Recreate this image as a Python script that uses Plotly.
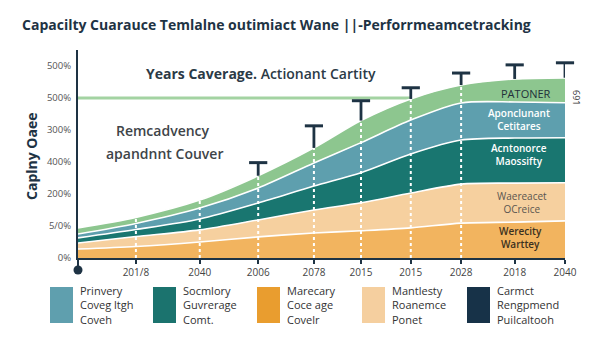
import numpy as np
import plotly.graph_objects as go

# Periods along the horizontal axis (first point sits on the axis origin)
periods = [0, 1.07, 2.25, 3.33, 4.36, 5.23, 6.15, 7.08, 8.07, 9.0]
year_labels = ["201/8", "2040", "2006", "2078", "2015", "2015", "2028", "2018", "2040"]

# Stacked layers, bottom to top
werecity = [0.28, 0.36, 0.50, 0.66, 0.78, 0.85, 0.94, 1.09, 1.12, 1.16]
waereacet = [0.19, 0.31, 0.38, 0.53, 0.72, 0.875, 1.09, 1.22, 1.22, 1.19]
acntonorce = [0.16, 0.22, 0.34, 0.53, 0.75, 0.94, 1.22, 1.375, 1.41, 1.41]
aponclunant = [0.12, 0.19, 0.34, 0.47, 0.72, 0.94, 1.06, 1.16, 1.125, 1.09]
patoner = [0.19, 0.19, 0.25, 0.38, 0.47, 0.69, 0.66, 0.56, 0.72, 0.78]

# Upper spread drawn above the total (None = no bar)
spread_upper = [None, None, None, 0.41, 0.69, 0.62, 0.35, 0.375, 0.44, 0.47]
# Periods that get a dotted guide line
guide_idx = [1, 2, 3, 4, 5, 6, 7]

target_level = 5.0
y_tick_labels = ["0%", "5/0%", "200%", "400%", "300%", "500%", "500%"]

legend_names = [
    "Prinvery<br>Coveg ltgh<br>Coveh",
    "Socmlory<br>Guvrerage<br>Comt.",
    "Marecary<br>Coce age<br>Covelr",
    "Mantlesty<br>Roanemce<br>Ponet",
    "Carmct<br>Rengpmend<br>Puilcaltooh",
]
legend_colors = ["#5f9fae", "#1b736e", "#e99d2f", "#f5cf9f", "#173248"]

layers = [
    ("Werecity Warttey", werecity, "#f2b45f"),
    ("Waereacet OCreice", waereacet, "#f6d09f"),
    ("Acntonorce Maossifty", acntonorce, "#197670"),
    ("Aponclunant Cetitares", aponclunant, "#5e9fae"),
    ("PATONER", patoner, "#8dc68f"),
]

DARK = "#1e3344"
FONT = "Open Sans"

W, H = 600, 338
L, R, T, B = 78, 35, 50, 80
PW, PH = W - L - R, H - T - B


def px(x):
    return (x - L) / PW


def py(y):
    return (H - B - y) / PH


fig = go.Figure()

for name, vals, col in layers:
    fig.add_trace(go.Scatter(
        x=periods, y=vals, name=name, mode="lines", stackgroup="one",
        line=dict(color="white", width=1.6, shape="spline", smoothing=0.8),
        fillcolor=col, hoverinfo="skip", showlegend=False,
    ))

totals = np.sum([werecity, waereacet, acntonorce, aponclunant, patoner], axis=0)

# dotted guides from the baseline up to the stacked total
gx, gy = [], []
for i in guide_idx:
    gx += [periods[i], periods[i], None]
    gy += [0, totals[i], None]
fig.add_trace(go.Scatter(
    x=gx, y=gy, mode="lines", line=dict(color="white", width=2, dash="dot"),
    hoverinfo="skip", showlegend=False,
))

# upper spread: a stem from the total and a cap on top (T shape)
ei = [i for i, v in enumerate(spread_upper) if v is not None]
sx, sy = [], []
for i in ei:
    sx += [periods[i], periods[i], None]
    sy += [totals[i], totals[i] + spread_upper[i], None]
fig.add_trace(go.Scatter(
    x=sx, y=sy, mode="lines", line=dict(color=DARK, width=2.8),
    hoverinfo="skip", showlegend=False,
))
fig.add_trace(go.Scatter(
    x=[periods[i] for i in ei], y=[totals[i] + spread_upper[i] for i in ei],
    mode="markers", cliponaxis=False,
    marker=dict(symbol="line-ew", size=13, line=dict(color=DARK, width=3)),
    hoverinfo="skip", showlegend=False,
))

shapes = [
    # target level line
    dict(type="line", xref="x", yref="y", x0=0, x1=periods[6],
         y0=target_level, y1=target_level,
         line=dict(color="#a3d3a2", width=3), layer="below"),
    # axis stub below origin with end dot
    dict(type="line", xref="paper", yref="paper", x0=0, x1=0,
         y0=0, y1=py(270), line=dict(color=DARK, width=2)),
    dict(type="circle", xref="paper", yref="paper",
         x0=px(73.5), x1=px(82.5), y0=py(265.5), y1=py(274.5),
         fillcolor=DARK, line=dict(color=DARK, width=0)),
]

annotations = [
    dict(text="<b>Capacilty Cuarauce Temlalne outimiact Wane ||-Perforrmeamcetracking</b>",
         x=px(20), y=py(25), xanchor="left", yanchor="middle",
         font=dict(size=14, color=DARK, family=FONT)),
    dict(text="<b>Caplny Oaee</b>", textangle=-90, x=px(31), y=py(157),
         xanchor="center", yanchor="middle",
         font=dict(size=14, color=DARK, family=FONT)),
    dict(text="<b>Years Caverage.</b> Actionant Cartity", x=px(261), y=py(73),
         xanchor="center", yanchor="middle",
         font=dict(size=14, color="#2b3a46", family=FONT, weight=600)),
    dict(text="Remcadvency", x=px(163), y=py(130), xanchor="center", yanchor="middle",
         font=dict(size=14, color="#3e4448", family=FONT, weight=600)),
    dict(text="apandnnt Couver", x=px(164), y=py(153), xanchor="center", yanchor="middle",
         font=dict(size=14, color="#3e4448", family=FONT, weight=600)),
    dict(text="PATONER", x=px(526), y=py(93), xanchor="center", yanchor="middle",
         font=dict(size=11, color="#22313a", family=FONT)),
    dict(text="Aponclunant<br>Cetitares", x=px(519), y=py(119), xanchor="center",
         yanchor="middle", font=dict(size=10, color="white", family=FONT, weight=600)),
    dict(text="Acntonorce<br>Maossifty", x=px(519), y=py(154), xanchor="center",
         yanchor="middle", font=dict(size=10, color="white", family=FONT, weight=600)),
    dict(text="Waereacet<br>OCreice", x=px(522), y=py(202), xanchor="center",
         yanchor="middle", font=dict(size=10, color="#5a5550", family=FONT)),
    dict(text="Werecity<br>Warttey", x=px(520), y=py(237), xanchor="center",
         yanchor="middle", font=dict(size=10, color="#3a3020", family=FONT, weight=600)),
    dict(text="691", textangle=90, x=px(577), y=py(97), xanchor="center",
         yanchor="middle", font=dict(size=9, color="#333", family=FONT)),
]

# hand-built legend row
leg_x = [50, 153, 257, 362, 467]
for lx, name, col in zip(leg_x, legend_names, legend_colors):
    shapes.append(dict(type="rect", xref="paper", yref="paper",
                       x0=px(lx), x1=px(lx + 23), y0=py(323), y1=py(287),
                       fillcolor=col, line=dict(width=0)))
    annotations.append(dict(text=name, x=px(lx + 28), y=py(305), xanchor="left",
                            yanchor="middle", align="left",
                            font=dict(size=11, color="#333", family=FONT)))

for a in annotations:
    a.setdefault("xref", "paper")
    a.setdefault("yref", "paper")
    a["showarrow"] = False

fig.update_layout(
    width=W, height=H,
    margin=dict(l=L, r=R, t=T, b=B),
    paper_bgcolor="white", plot_bgcolor="white",
    showlegend=False,
    shapes=shapes, annotations=annotations,
    xaxis=dict(range=[0, 9], tickvals=periods[1:], ticktext=year_labels,
               showgrid=False, zeroline=False, showline=True, linecolor=DARK,
               linewidth=2, ticks="outside", ticklen=4, tickwidth=2, tickcolor=DARK,
               tickfont=dict(size=10, color="#444", family=FONT)),
    yaxis=dict(range=[0, 6.5], tickvals=list(range(7)), ticktext=y_tick_labels,
               showgrid=False, zeroline=False, showline=True, linecolor=DARK,
               linewidth=2, ticks="", ticklabelstandoff=3,
               tickfont=dict(size=9.5, color="#555", family=FONT)),
)

fig.write_html("out.html")
